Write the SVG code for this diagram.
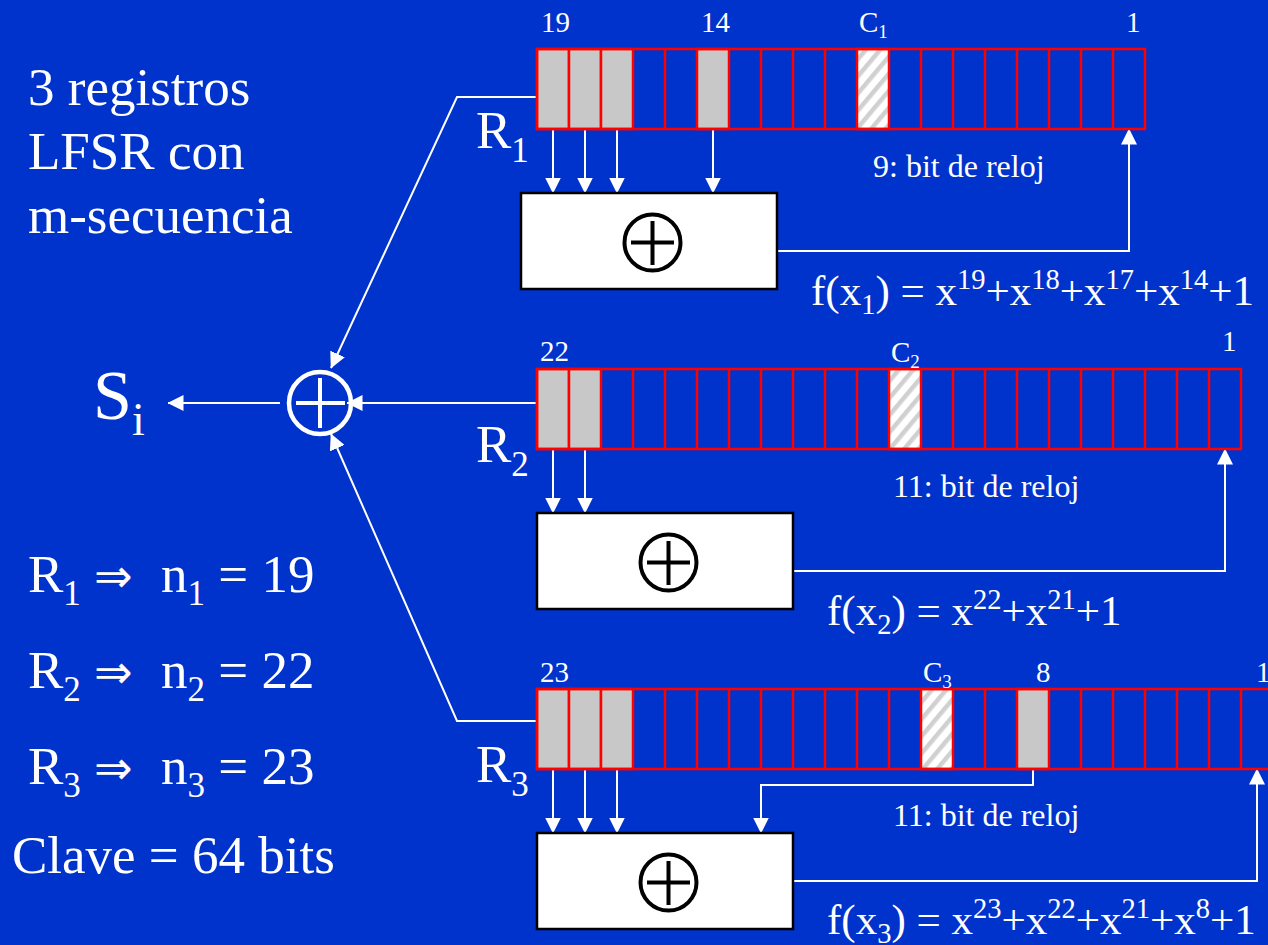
<svg xmlns="http://www.w3.org/2000/svg" width="1268" height="945" viewBox="0 0 1268 945">
<style>
text{font-family:"Liberation Serif","Times New Roman",serif;fill:#fff}
.t53{font-size:53px}.t43{font-size:43px}.t29{font-size:29px}.t32{font-size:32px}
.s{font-size:35px}.u{font-size:28.5px}.c{font-size:19px}
.arr{font-family:"DejaVu Sans",sans-serif;font-size:46px}
.reg{fill:none;stroke:#f00;stroke-width:2.5}
.g{fill:#c8c8c8;stroke:#f00;stroke-width:2.5}
.h{fill:url(#hatch);stroke:#f00;stroke-width:2.5}
.box{fill:#fff;stroke:#000;stroke-width:2.5}
.x{fill:none;stroke:#000;stroke-width:4}
.a{fill:none;stroke:#fff;stroke-width:2;marker-end:url(#ah)}
</style>
<defs>
<marker id="ah" markerUnits="userSpaceOnUse" markerWidth="16" markerHeight="16" refX="15.5" refY="8" orient="auto"><path d="M0 0L16 8L0 16Z" fill="#fff"/></marker>
<pattern id="hatch" patternUnits="userSpaceOnUse" width="11" height="11" patternTransform="rotate(-50)"><rect width="11" height="11" fill="#fff"/><rect width="11" height="4.5" fill="#d0d0d0"/></pattern>
</defs>
<rect width="1268" height="945" fill="#0033cc"/>

<g id="intro"><text class="t53" x="28" y="105">3 registros</text><text class="t53" x="28" y="169">LFSR con</text><text class="t53" x="28" y="233">m-secuencia</text></g>
<g id="lengths">
<text class="t53" x="28" y="592">R<tspan class="s" dy="13">1</tspan><tspan class="arr" x="94" dy="-13">⇒</tspan><tspan x="161">n</tspan><tspan class="s" dy="13">1</tspan><tspan dy="-13"> = 19</tspan></text>
<text class="t53" x="28" y="688">R<tspan class="s" dy="13">2</tspan><tspan class="arr" x="94" dy="-13">⇒</tspan><tspan x="161">n</tspan><tspan class="s" dy="13">2</tspan><tspan dy="-13"> = 22</tspan></text>
<text class="t53" x="28" y="784">R<tspan class="s" dy="13">3</tspan><tspan class="arr" x="94" dy="-13">⇒</tspan><tspan x="161">n</tspan><tspan class="s" dy="13">3</tspan><tspan dy="-13"> = 23</tspan></text>
<text class="t53" x="12" y="873">Clave = 64 bits</text>
</g>
<g id="si"><text font-size="70" x="93" y="419">S<tspan font-size="46" dy="16">i</tspan></text></g>

<g id="connectors">
<path class="a" d="M537 97H457L331 368"/>
<path class="a" d="M537 403H347"/>
<path class="a" d="M537 721H457L331 434"/>
<path class="a" d="M280 403H168"/>
<path class="a" d="M553 129V193"/><path class="a" d="M585 129V193"/><path class="a" d="M617 129V193"/><path class="a" d="M713 129V193"/>
<path class="a" d="M777 251H1129V129"/>
<path class="a" d="M553 449V513"/><path class="a" d="M585 449V513"/>
<path class="a" d="M793 571H1225V449"/>
<path class="a" d="M553 769V833"/><path class="a" d="M585 769V833"/><path class="a" d="M617 769V833"/>
<path class="a" d="M1033 769V785H761V833"/>
<path class="a" d="M793 881H1257V769"/>
</g>

<g id="xor-main"><circle cx="320" cy="403" r="31" fill="none" stroke="#fff" stroke-width="4.5"/><path d="M296 403H345M320 378V428" fill="none" stroke="#fff" stroke-width="4"/></g>

<g id="register-1">
<rect class="g" x="537" y="49" width="32" height="80"/><rect class="g" x="569" y="49" width="32" height="80"/><rect class="g" x="601" y="49" width="32" height="80"/><rect class="g" x="697" y="49" width="32" height="80"/><rect class="h" x="857" y="49" width="32" height="80"/>
<path class="reg" d="M537 49H1145V129H537ZM665 49V129M761 49V129M793 49V129M825 49V129M921 49V129M953 49V129M985 49V129M1017 49V129M1049 49V129M1081 49V129M1113 49V129"/>
<text class="t29" x="541" y="32">19</text><text class="t29" x="701" y="32">14</text><text class="t29" x="859" y="32">C<tspan class="c" dy="6">1</tspan></text><text class="t29" x="1126" y="32">1</text>
<text class="t53" x="476" y="148">R<tspan class="s" dy="14">1</tspan></text>
<text class="t32" x="873" y="177">9: bit de reloj</text>
</g>
<g id="xor-box-1"><rect class="box" x="521" y="193" width="256" height="96"/><circle class="x" cx="652.5" cy="242.5" r="28"/><path class="x" d="M631 242.5H674M652.5 221V265"/></g>
<g id="formula-1"><text class="t43" x="811" y="305">f(x<tspan class="u" dy="9">1</tspan><tspan dy="-9">) = x</tspan><tspan class="u" dy="-16">19</tspan><tspan dy="16">+x</tspan><tspan class="u" dy="-16">18</tspan><tspan dy="16">+x</tspan><tspan class="u" dy="-16">17</tspan><tspan dy="16">+x</tspan><tspan class="u" dy="-16">14</tspan><tspan dy="16">+1</tspan></text></g>

<g id="register-2">
<rect class="g" x="537" y="369" width="32" height="80"/><rect class="g" x="569" y="369" width="32" height="80"/><rect class="h" x="889" y="369" width="32" height="80"/>
<path class="reg" d="M537 369H1241V449H537ZM633 369V449M665 369V449M697 369V449M729 369V449M761 369V449M793 369V449M825 369V449M857 369V449M953 369V449M985 369V449M1017 369V449M1049 369V449M1081 369V449M1113 369V449M1145 369V449M1177 369V449M1209 369V449"/>
<text class="t29" x="540" y="361">22</text><text class="t29" x="891" y="362">C<tspan class="c" dy="6">2</tspan></text><text class="t29" x="1222" y="351">1</text>
<text class="t53" x="476" y="462">R<tspan class="s" dy="14">2</tspan></text>
<text class="t32" x="893" y="497">11: bit de reloj</text>
</g>
<g id="xor-box-2"><rect class="box" x="537" y="513" width="256" height="96"/><circle class="x" cx="668.5" cy="562.5" r="28"/><path class="x" d="M647 562.5H690M668.5 541V585"/></g>
<g id="formula-2"><text class="t43" x="827" y="625">f(x<tspan class="u" dy="9">2</tspan><tspan dy="-9">) = x</tspan><tspan class="u" dy="-16">22</tspan><tspan dy="16">+x</tspan><tspan class="u" dy="-16">21</tspan><tspan dy="16">+1</tspan></text></g>

<g id="register-3">
<rect class="g" x="537" y="689" width="32" height="80"/><rect class="g" x="569" y="689" width="32" height="80"/><rect class="g" x="601" y="689" width="32" height="80"/><rect class="h" x="921" y="689" width="32" height="80"/><rect class="g" x="1017" y="689" width="32" height="80"/>
<path class="reg" d="M1270 689H537V769H1270M665 689V769M697 689V769M729 689V769M761 689V769M793 689V769M825 689V769M857 689V769M889 689V769M985 689V769M1081 689V769M1113 689V769M1145 689V769M1177 689V769M1209 689V769M1241 689V769"/>
<text class="t29" x="540" y="682">23</text><text class="t29" x="923" y="682">C<tspan class="c" dy="6">3</tspan></text><text class="t29" x="1036" y="682">8</text><text class="t29" x="1256" y="682">1</text>
<text class="t53" x="476" y="782">R<tspan class="s" dy="14">3</tspan></text>
<text class="t32" x="893" y="826">11: bit de reloj</text>
</g>
<g id="xor-box-3"><rect class="box" x="537" y="833" width="256" height="96"/><circle class="x" cx="668.5" cy="882.5" r="28"/><path class="x" d="M647 882.5H690M668.5 861V905"/></g>
<g id="formula-3"><text class="t43" x="827" y="934">f(x<tspan class="u" dy="9">3</tspan><tspan dy="-9">) = x</tspan><tspan class="u" dy="-16">23</tspan><tspan dy="16">+x</tspan><tspan class="u" dy="-16">22</tspan><tspan dy="16">+x</tspan><tspan class="u" dy="-16">21</tspan><tspan dy="16">+x</tspan><tspan class="u" dy="-16">8</tspan><tspan dy="16">+1</tspan></text></g>
</svg>
